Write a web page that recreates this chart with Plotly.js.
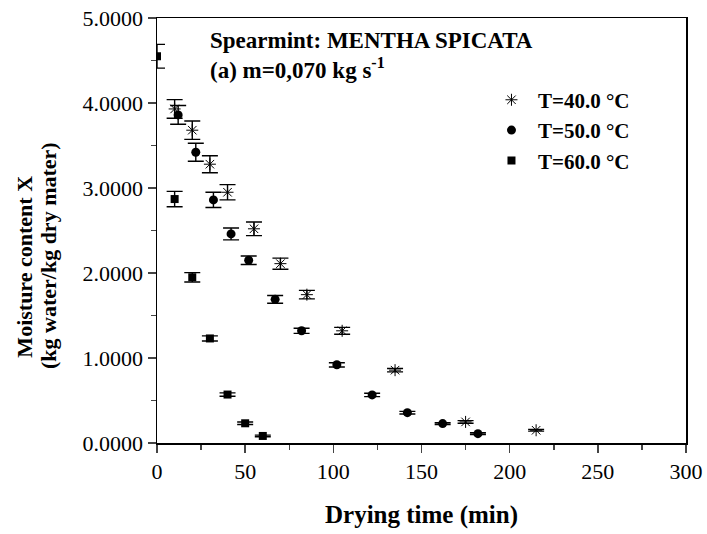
<!DOCTYPE html>
<html><head><meta charset="utf-8">
<script src="https://cdn.plot.ly/plotly-3.0.1.min.js"></script>
<style>body{margin:0;background:#fff}#plot{width:707px;height:534px}</style>
</head><body><div id="plot"></div>
<script>
const t40_x = [10, 20, 30, 40, 55, 70, 85, 105, 135, 175, 215];
const t40_y = [3.93, 3.68, 3.28, 2.95, 2.52, 2.11, 1.745, 1.32, 0.857, 0.248, 0.15];
const t40_err = [0.11, 0.108, 0.1, 0.09, 0.08, 0.065, 0.05, 0.04, 0.02, 0.015, 0.01];

const t50_x = [12, 22, 32, 42, 52, 67, 82, 102, 122, 142, 162, 182];
const t50_y = [3.86, 3.42, 2.86, 2.46, 2.15, 1.69, 1.32, 0.92, 0.566, 0.357, 0.228, 0.11];
const t50_err = [0.11, 0.106, 0.09, 0.07, 0.05, 0.045, 0.03, 0.025, 0.02, 0.015, 0.01, 0.01];

const t60_x = [0, 10, 20, 30, 40, 50, 60];
const t60_y = [4.55, 2.87, 1.95, 1.23, 0.57, 0.232, 0.083];
const t60_err = [0.14, 0.09, 0.055, 0.03, 0.02, 0.015, 0.01];

const names = ['T=40.0 °C', 'T=50.0 °C', 'T=60.0 °C'];
const yTicks = [0, 1, 2, 3, 4, 5];
const xTicks = [0, 50, 100, 150, 200, 250, 300];
const yTitleLines = ['Moisture content X', '(kg water/kg dry mater)'];

function err(a){ return {type:'data', array:a, visible:true, color:'#000', thickness:1.4, width:8}; }

const traces = [
  {x:t40_x, y:t40_y, error_y:err(t40_err), mode:'markers', type:'scatter', name:names[0],
   marker:{symbol:'asterisk-open', size:10, color:'#000', line:{color:'#000', width:1}}},
  {x:t50_x, y:t50_y, error_y:err(t50_err), mode:'markers', type:'scatter', name:names[1],
   marker:{symbol:'circle', size:9, color:'#000'}},
  {x:t60_x, y:t60_y, error_y:err(t60_err), mode:'markers', type:'scatter', name:names[2],
   marker:{symbol:'square', size:8, color:'#000'}}
];

const font = 'Liberation Serif, Times New Roman, serif';
const layout = {
  width:707, height:534,
  margin:{l:157, r:21, t:18, b:91},
  paper_bgcolor:'#fff', plot_bgcolor:'#fff',
  font:{family:font, color:'#000', size:22},
  showlegend:true,
  legend:{x:0.62, y:0.855, xanchor:'left', yanchor:'top', bgcolor:'rgba(0,0,0,0)',
          font:{family:font, size:21, color:'#000', weight:'bold'}, tracegroupgap:0, itemwidth:43},
  xaxis:{range:[0,300], tickvals:xTicks, ticktext:xTicks.map(String), ticks:'outside', ticklen:8, tickwidth:1.5,
         showline:true, mirror:true, linewidth:1.5, linecolor:'#000', showgrid:false, zeroline:false,
         minor:{tickvals:[25,75,125,175,225,275], ticks:'outside', ticklen:5, tickwidth:1.5, showgrid:false},
         tickfont:{size:22, family:font},
         title:{text:'<b>Drying time (min)</b>', font:{size:25, family:font}, standoff:22}},
  yaxis:{range:[0,5], tickvals:yTicks, ticktext:yTicks.map(v=>v.toFixed(4)), ticks:'outside', ticklen:8, tickwidth:1.5,
         showline:true, mirror:true, linewidth:1.5, linecolor:'#000', showgrid:false, zeroline:false,
         minor:{tickvals:[0.5,1.5,2.5,3.5,4.5], ticks:'outside', ticklen:5, tickwidth:1.5, showgrid:false},
         tickfont:{size:22, family:font}},
  annotations:[
    {xref:'paper', yref:'paper', x:0.0964, y:0.948, xanchor:'left', yanchor:'middle', showarrow:false,
     text:'<b>Spearmint: MENTHA SPICATA</b>', font:{size:23, family:font}},
    {xref:'paper', yref:'paper', x:0.0964, y:0.882, xanchor:'left', yanchor:'middle', showarrow:false,
     text:'<b>(a) m=0,070 kg s<sup>-1</sup></b>', font:{size:23, family:font}},
    {xref:'paper', yref:'paper', x:-0.2495, y:0.415, xanchor:'center', yanchor:'middle', showarrow:false,
     textangle:-90, text:'<b>'+yTitleLines[0]+'</b>', font:{size:22, family:font}},
    {xref:'paper', yref:'paper', x:-0.206, y:0.44, xanchor:'center', yanchor:'middle', showarrow:false,
     textangle:-90, text:'<b>'+yTitleLines[1]+'</b>', font:{size:22, family:font}}
  ]
};
Plotly.newPlot('plot', traces, layout, {displayModeBar:false, staticPlot:true});
</script></body></html>
